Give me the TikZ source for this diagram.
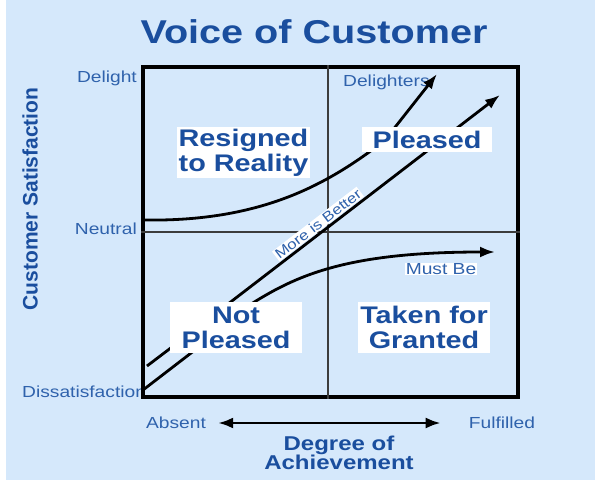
\documentclass[tikz,border=0pt]{standalone}
\usepackage{fontspec}
\setmainfont{Liberation Sans}
\newfontfamily\wide[FakeStretch=1.2]{Liberation Sans}
\usetikzlibrary{arrows.meta,positioning}

\definecolor{vocbg}{HTML}{D5E8FB}
\definecolor{vocblue}{HTML}{1A4E9E}
\definecolor{labelblue}{HTML}{2F62AC}
\definecolor{midgray}{HTML}{3C3C3C}

\tikzset{
  quadrant/.style={fill=white, text=vocblue, align=center, inner sep=0pt,
    font=\wide\bfseries\fontsize{24}{25}\selectfont},
  scale label/.style={text=labelblue, inner sep=1pt,
    font=\wide\fontsize{16}{18}\selectfont},
  midline/.style={draw=midgray, line width=1.5pt},
  curve/.style={line width=2.8pt, -{Latex[length=15pt,width=11pt]}},
}

\begin{document}
\begin{tikzpicture}[x=1pt,y=-1pt]
\useasboundingbox (0,0) rectangle (595,481);
\fill[vocbg] (6,0) rectangle (595,480);

\node[text=vocblue, font=\wide\bfseries\fontsize{33}{36}\selectfont] (title) at (314,32) {Voice of Customer};

% satisfaction scale
\node[scale label, anchor=east] (delight) at (138,78) {Delight};
\node[scale label, anchor=east] (neutral) at (138,229) {Neutral};
\node[scale label, anchor=west] (dissat) at (21,392) {Dissatisfaction};
\node[rotate=90, text=vocblue, font=\bfseries\fontsize{21}{24}\selectfont] (satis) at (30,199) {Customer Satisfaction};

% achievement scale
\node[scale label] (absent) at (176,423) {Absent};
\node[scale label] (fulfilled) at (502,423) {Fulfilled};
\node[text=vocblue, align=center, inner sep=0pt,
      font=\wide\bfseries\fontsize{20}{19}\selectfont] (achieve) at (339,453) {Degree of\\Achievement};
\draw[line width=2.8pt, {Latex[length=15pt,width=11pt]}-{Latex[length=15pt,width=11pt]},
      shorten <=11pt, shorten >=27pt] (absent) -- (fulfilled);

% quadrant grid
\node[draw, line width=3.4pt, minimum width=375pt, minimum height=330pt, inner sep=0pt] (grid) at (330.5,232) {};
\draw[midline] ([xshift=-2.5pt]grid.north) -- ([xshift=-2.5pt]grid.south);
\draw[midline] (grid.west) -- (grid.east);

\node[scale label, anchor=west] (delighters) at (342,82) {Delighters};
\node[scale label, fill=white, inner sep=0.5pt] (mustbe) at (441,269) {Must Be};

% the three curves
\coordinate (dl0) at (143,220);
\coordinate (dl1) at (437,74);
\coordinate (mb0) at (143,390);
\coordinate (mb1) at (500,95);
\coordinate (ms0) at (147,366);
\coordinate (ms1) at (495,252);

\draw[curve] (dl0) .. controls (255,222) and (320,188) .. (372,150) -- (385,140) -- (dl1);
\draw[curve] (mb0) -- (195,350) -- (228,304)
  -- node[pos=0.35, sloped, above=1pt, fill=white, text=labelblue, inner sep=1pt,
          font=\wide\fontsize{14}{16}\selectfont] (better) {More is Better} (mb1);
\draw[curve] (ms0) -- (176,344) -- (248,306) .. controls (295,276) and (345,252) .. (ms1);

% quadrant names
\node[quadrant, minimum width=133pt, minimum height=51pt] (resigned) at (243.5,152.5) {Resigned\\to Reality};
\node[quadrant, minimum width=130pt, minimum height=25pt] (pleased) at (427,139.5) {Pleased};
\node[quadrant, minimum width=132pt, minimum height=51pt] (notpleased) at (236,327.5) {Not\\Pleased};
\node[quadrant, minimum width=132pt, minimum height=51pt] (granted) at (424,327.5) {Taken for\\Granted};
\end{tikzpicture}
\end{document}
